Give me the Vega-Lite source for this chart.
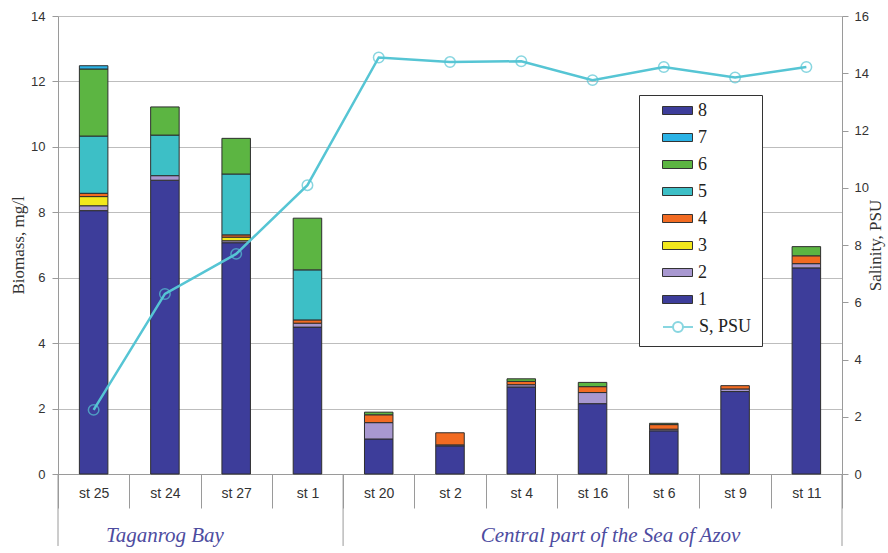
{
  "$schema": "https://vega.github.io/schema/vega-lite/v6.json",
  "width": 784,
  "height": 458,
  "autosize": {"type": "none"},
  "padding": {"left": 58, "top": 16, "right": 46, "bottom": 79},
  "background": "white",
  "config": {
    "view": {"stroke": null},
    "font": "Liberation Sans",
    "axis": {
      "labelFont": "Liberation Sans",
      "labelFontSize": 13,
      "labelColor": "#333333",
      "domainColor": "#9a9a9a",
      "tickColor": "#9a9a9a",
      "gridColor": "#bdbdbd",
      "titleFont": "Liberation Serif",
      "titleFontWeight": "normal",
      "titleFontSize": 17,
      "titleColor": "#333333"
    },
    "legend": {
      "labelFont": "Liberation Serif",
      "labelFontSize": 18,
      "labelColor": "#222222"
    }
  },
  "datasets": {
    "biomass": [
      {"station": "st 25", "group": "1", "value": 8.05},
      {"station": "st 25", "group": "2", "value": 0.15},
      {"station": "st 25", "group": "3", "value": 0.28},
      {"station": "st 25", "group": "4", "value": 0.10},
      {"station": "st 25", "group": "5", "value": 1.75},
      {"station": "st 25", "group": "6", "value": 2.05},
      {"station": "st 25", "group": "7", "value": 0.10},
      {"station": "st 24", "group": "1", "value": 8.98},
      {"station": "st 24", "group": "2", "value": 0.14},
      {"station": "st 24", "group": "5", "value": 1.24},
      {"station": "st 24", "group": "6", "value": 0.86},
      {"station": "st 27", "group": "1", "value": 7.07},
      {"station": "st 27", "group": "2", "value": 0.06},
      {"station": "st 27", "group": "3", "value": 0.11},
      {"station": "st 27", "group": "4", "value": 0.07},
      {"station": "st 27", "group": "5", "value": 1.86},
      {"station": "st 27", "group": "6", "value": 1.09},
      {"station": "st 1", "group": "1", "value": 4.49},
      {"station": "st 1", "group": "2", "value": 0.12},
      {"station": "st 1", "group": "4", "value": 0.10},
      {"station": "st 1", "group": "5", "value": 1.53},
      {"station": "st 1", "group": "6", "value": 1.58},
      {"station": "st 20", "group": "1", "value": 1.07},
      {"station": "st 20", "group": "2", "value": 0.50},
      {"station": "st 20", "group": "4", "value": 0.24},
      {"station": "st 20", "group": "6", "value": 0.08},
      {"station": "st 2", "group": "1", "value": 0.86},
      {"station": "st 2", "group": "2", "value": 0.03},
      {"station": "st 2", "group": "4", "value": 0.37},
      {"station": "st 4", "group": "1", "value": 2.66},
      {"station": "st 4", "group": "2", "value": 0.07},
      {"station": "st 4", "group": "4", "value": 0.10},
      {"station": "st 4", "group": "6", "value": 0.08},
      {"station": "st 16", "group": "1", "value": 2.15},
      {"station": "st 16", "group": "2", "value": 0.34},
      {"station": "st 16", "group": "4", "value": 0.18},
      {"station": "st 16", "group": "6", "value": 0.13},
      {"station": "st 6", "group": "1", "value": 1.32},
      {"station": "st 6", "group": "2", "value": 0.05},
      {"station": "st 6", "group": "4", "value": 0.14},
      {"station": "st 6", "group": "6", "value": 0.04},
      {"station": "st 9", "group": "1", "value": 2.52},
      {"station": "st 9", "group": "2", "value": 0.08},
      {"station": "st 9", "group": "4", "value": 0.10},
      {"station": "st 11", "group": "1", "value": 6.30},
      {"station": "st 11", "group": "2", "value": 0.13},
      {"station": "st 11", "group": "4", "value": 0.24},
      {"station": "st 11", "group": "6", "value": 0.28}
    ],
    "salinity": [
      {"station": "st 25", "psu": 2.24},
      {"station": "st 24", "psu": 6.29},
      {"station": "st 27", "psu": 7.69},
      {"station": "st 1", "psu": 10.09},
      {"station": "st 20", "psu": 14.55},
      {"station": "st 2", "psu": 14.39},
      {"station": "st 4", "psu": 14.42},
      {"station": "st 16", "psu": 13.76},
      {"station": "st 6", "psu": 14.22},
      {"station": "st 9", "psu": 13.85},
      {"station": "st 11", "psu": 14.22}
    ],
    "regionStart": [
      {"station": "st 25"},
      {"station": "st 20"}
    ],
    "regionEnd": [
      {"station": "st 11"}
    ]
  },
  "layer": [
    {
      "layer": [
        {
          "data": {"name": "biomass"},
          "mark": {"type": "bar", "width": {"band": 0.4}, "stroke": "#2e2e2e", "strokeWidth": 1},
          "encoding": {
            "x": {
              "field": "station",
              "type": "nominal",
              "sort": ["st 25", "st 24", "st 27", "st 1", "st 20", "st 2", "st 4", "st 16", "st 6", "st 9", "st 11"],
              "scale": {"paddingInner": 0, "paddingOuter": 0},
              "axis": {
                "title": null,
                "labelAngle": 0,
                "tickBand": "extent",
                "tickSize": 34,
                "labelPadding": -22,
                "labelFont": "Liberation Sans Narrow, Liberation Sans",
                "labelFontSize": 14,
                "grid": false
              }
            },
            "y": {
              "field": "value",
              "type": "quantitative",
              "stack": "zero",
              "scale": {"domain": [0, 14], "nice": false},
              "axis": {
                "title": "Biomass, mg/l",
                "values": [0, 2, 4, 6, 8, 10, 12, 14],
                "grid": true,
                "tickSize": 6,
                "labelPadding": 7,
                "titlePadding": 3
              }
            },
            "fill": {
              "field": "group",
              "type": "nominal",
              "scale": {
                "domain": ["8", "7", "6", "5", "4", "3", "2", "1"],
                "range": ["#3d3d9a", "#2bb3e6", "#5cb542", "#3dbfc6", "#f26b22", "#f2e81d", "#a898d0", "#3d3d9a"]
              },
              "legend": {
                "title": null,
                "orient": "none",
                "legendX": 581,
                "legendY": 79,
                "zindex": 2,
                "direction": "vertical",
                "padding": 5,
                "symbolType": "M-1.5,-0.4H1.5V0.4H-1.5Z",
                "symbolSize": 400,
                "symbolStrokeColor": "#333333",
                "symbolStrokeWidth": 1,
                "symbolOffset": 23,
                "rowPadding": 7,
                "labelOffset": 10
              }
            },
            "order": {"field": "group", "sort": "ascending"}
          }
        },
        {
          "data": {"name": "regionStart"},
          "mark": {"type": "rule", "color": "#9a9a9a", "strokeWidth": 1},
          "encoding": {
            "x": {
              "field": "station",
              "type": "nominal",
              "bandPosition": 0,
              "sort": ["st 25", "st 24", "st 27", "st 1", "st 20", "st 2", "st 4", "st 16", "st 6", "st 9", "st 11"]
            },
            "y": {"datum": 0, "type": "quantitative", "scale": {"domain": [0, 14], "nice": false}},
            "y2": {"datum": -2.2}
          }
        },
        {
          "data": {"name": "regionEnd"},
          "mark": {"type": "rule", "color": "#9a9a9a", "strokeWidth": 1},
          "encoding": {
            "x": {
              "field": "station",
              "type": "nominal",
              "bandPosition": 1,
              "sort": ["st 25", "st 24", "st 27", "st 1", "st 20", "st 2", "st 4", "st 16", "st 6", "st 9", "st 11"]
            },
            "y": {"datum": 0, "type": "quantitative", "scale": {"domain": [0, 14], "nice": false}},
            "y2": {"datum": -2.2}
          }
        },
        {
          "data": {"values": [{"station": "st 24", "region": "Taganrog Bay"}]},
          "mark": {
            "type": "text",
            "font": "Liberation Serif",
            "fontStyle": "italic",
            "fontSize": 21,
            "color": "#4d4c9f",
            "baseline": "middle",
            "dx": 0
          },
          "encoding": {
            "x": {
              "field": "station",
              "type": "nominal",
              "sort": ["st 25", "st 24", "st 27", "st 1", "st 20", "st 2", "st 4", "st 16", "st 6", "st 9", "st 11"]
            },
            "y": {"datum": -1.9, "type": "quantitative", "scale": {"domain": [0, 14], "nice": false}},
            "text": {"field": "region"}
          }
        },
        {
          "data": {"values": [{"station": "st 16", "region": "Central part of the Sea of Azov"}]},
          "mark": {
            "type": "text",
            "font": "Liberation Serif",
            "fontStyle": "italic",
            "fontSize": 21,
            "color": "#4d4c9f",
            "baseline": "middle",
            "dx": 18
          },
          "encoding": {
            "x": {
              "field": "station",
              "type": "nominal",
              "sort": ["st 25", "st 24", "st 27", "st 1", "st 20", "st 2", "st 4", "st 16", "st 6", "st 9", "st 11"]
            },
            "y": {"datum": -1.9, "type": "quantitative", "scale": {"domain": [0, 14], "nice": false}},
            "text": {"field": "region"}
          }
        }
      ]
    },
    {
      "data": {"name": "salinity"},
      "layer": [
        {
          "mark": {"type": "line", "strokeWidth": 2.5},
          "encoding": {
            "x": {
              "field": "station",
              "type": "nominal",
              "sort": ["st 25", "st 24", "st 27", "st 1", "st 20", "st 2", "st 4", "st 16", "st 6", "st 9", "st 11"]
            },
            "y": {
              "field": "psu",
              "type": "quantitative",
              "scale": {"domain": [0, 16], "nice": false},
              "axis": {
                "orient": "right",
                "title": "Salinity, PSU",
                "titleAngle": -90,
                "values": [0, 2, 4, 6, 8, 10, 12, 14, 16],
                "grid": false,
                "tickSize": 6,
                "labelPadding": 6,
                "titlePadding": 16
              }
            },
            "stroke": {
              "datum": "S, PSU",
              "scale": {"domain": ["S, PSU"], "range": ["#56c5d4"]},
              "legend": {
                "title": ["\u00a0", "\u00a0", "\u00a0", "\u00a0", "\u00a0", "\u00a0", "\u00a0", "\u00a0"],
                "titleFont": "Liberation Serif",
                "titleFontWeight": "normal",
                "titleFontSize": 20,
                "titleLineHeight": 27,
                "titlePadding": 2,
                "orient": "none",
                "legendX": 581,
                "legendY": 79,
                "zindex": 1,
                "direction": "vertical",
                "strokeColor": "#333333",
                "fillColor": "white",
                "padding": 10,
                "symbolType": "M-1.5,0H-0.5M0.5,0H1.5M0.5,0A0.5,0.5,0,1,1,-0.5,0A0.5,0.5,0,1,1,0.5,0",
                "symbolSize": 400,
                "symbolStrokeWidth": 2,
                "symbolFillColor": "transparent",
                "symbolOffset": 18,
                "labelOffset": 10
              }
            }
          }
        },
        {
          "mark": {"type": "point", "shape": "circle", "filled": false, "size": 110, "strokeWidth": 1.5},
          "encoding": {
            "x": {
              "field": "station",
              "type": "nominal",
              "sort": ["st 25", "st 24", "st 27", "st 1", "st 20", "st 2", "st 4", "st 16", "st 6", "st 9", "st 11"]
            },
            "y": {"field": "psu", "type": "quantitative"},
            "stroke": {"datum": "S, PSU"}
          }
        }
      ]
    }
  ],
  "resolve": {"scale": {"y": "independent"}}
}
